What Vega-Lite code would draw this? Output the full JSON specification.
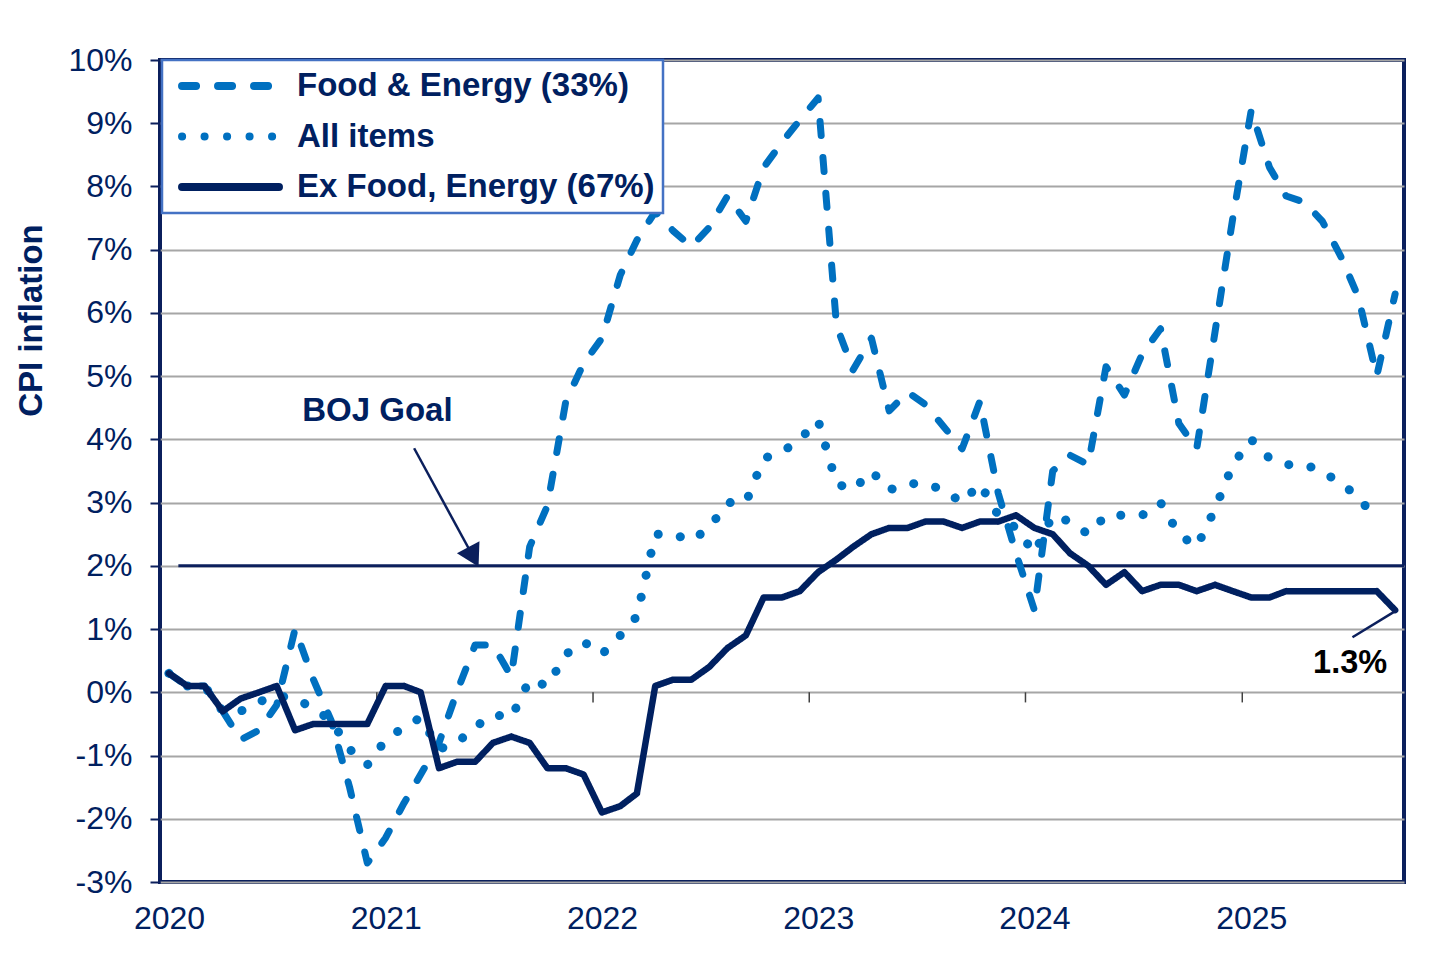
{
  "$schema": "https://vega.github.io/schema/vega-lite/v6.json",
  "width": 1244,
  "height": 822,
  "autosize": {"type": "none"},
  "padding": {"left": 160, "top": 60, "right": 52, "bottom": 84},
  "background": "white",
  "config": {
    "font": "Liberation Sans",
    "view": {"stroke": "#0b1f5c", "strokeWidth": 4},
    "legend": {
      "symbolType": "stroke",
      "symbolSize": 9400,
      "symbolStrokeWidth": 8,
      "labelFont": "Liberation Sans",
      "labelFontSize": 33,
      "labelFontWeight": "bold",
      "labelColor": "#002060",
      "labelLimit": 0,
      "padding": 7.5,
      "rowPadding": 13.5,
      "clipHeight": 37,
      "symbolOffset": 8.5,
      "labelOffset": 14,
      "fillColor": "white",
      "strokeColor": "#4472C4",
      "strokeWidth": 2.5
    }
  },
  "datasets": {
    "cpi": [
      {"date": "2020-01-16", "FE": 0.3, "All": 0.3, "Ex": 0.3},
      {"date": "2020-02-16", "FE": 0.1, "All": 0.1, "Ex": 0.1},
      {"date": "2020-03-16", "FE": 0.1, "All": 0.1, "Ex": 0.1},
      {"date": "2020-04-16", "FE": -0.3, "All": -0.3, "Ex": -0.3},
      {"date": "2020-05-16", "FE": -0.75, "All": -0.3, "Ex": -0.1},
      {"date": "2020-06-16", "FE": -0.6, "All": -0.15, "Ex": 0.0},
      {"date": "2020-07-16", "FE": -0.2, "All": -0.05, "Ex": 0.1},
      {"date": "2020-08-16", "FE": 1.0, "All": -0.1, "Ex": -0.6},
      {"date": "2020-09-16", "FE": 0.2, "All": -0.25, "Ex": -0.5},
      {"date": "2020-10-16", "FE": -0.45, "All": -0.45, "Ex": -0.5},
      {"date": "2020-11-16", "FE": -1.5, "All": -0.9, "Ex": -0.5},
      {"date": "2020-12-16", "FE": -2.7, "All": -1.15, "Ex": -0.5},
      {"date": "2021-01-16", "FE": -2.3, "All": -0.75, "Ex": 0.1},
      {"date": "2021-02-16", "FE": -1.75, "All": -0.55, "Ex": 0.1},
      {"date": "2021-03-16", "FE": -1.3, "All": -0.4, "Ex": 0.0},
      {"date": "2021-04-16", "FE": -0.8, "All": -0.9, "Ex": -1.2},
      {"date": "2021-05-16", "FE": 0.0, "All": -0.8, "Ex": -1.1},
      {"date": "2021-06-16", "FE": 0.75, "All": -0.55, "Ex": -1.1},
      {"date": "2021-07-16", "FE": 0.75, "All": -0.35, "Ex": -0.8},
      {"date": "2021-08-16", "FE": 0.25, "All": -0.4, "Ex": -0.7},
      {"date": "2021-09-16", "FE": 2.3, "All": 0.2, "Ex": -0.8},
      {"date": "2021-10-16", "FE": 2.95, "All": 0.1, "Ex": -1.2},
      {"date": "2021-11-16", "FE": 4.6, "All": 0.6, "Ex": -1.2},
      {"date": "2021-12-16", "FE": 5.2, "All": 0.8, "Ex": -1.3},
      {"date": "2022-01-16", "FE": 5.6, "All": 0.6, "Ex": -1.9},
      {"date": "2022-02-16", "FE": 6.6, "All": 0.9, "Ex": -1.8},
      {"date": "2022-03-16", "FE": 7.15, "All": 1.2, "Ex": -1.6},
      {"date": "2022-04-16", "FE": 7.6, "All": 2.5, "Ex": 0.1},
      {"date": "2022-05-16", "FE": 7.3, "All": 2.5, "Ex": 0.2},
      {"date": "2022-06-16", "FE": 7.05, "All": 2.4, "Ex": 0.2},
      {"date": "2022-07-16", "FE": 7.35, "All": 2.6, "Ex": 0.4},
      {"date": "2022-08-16", "FE": 7.85, "All": 3.0, "Ex": 0.7},
      {"date": "2022-09-16", "FE": 7.45, "All": 3.0, "Ex": 0.9},
      {"date": "2022-10-16", "FE": 8.3, "All": 3.7, "Ex": 1.5},
      {"date": "2022-11-16", "FE": 8.7, "All": 3.8, "Ex": 1.5},
      {"date": "2022-12-16", "FE": 9.05, "All": 4.0, "Ex": 1.6},
      {"date": "2023-01-16", "FE": 9.4, "All": 4.3, "Ex": 1.9},
      {"date": "2023-02-16", "FE": 5.8, "All": 3.3, "Ex": 2.1},
      {"date": "2023-03-16", "FE": 5.1, "All": 3.2, "Ex": 2.3},
      {"date": "2023-04-16", "FE": 5.6, "All": 3.5, "Ex": 2.5},
      {"date": "2023-05-16", "FE": 4.45, "All": 3.2, "Ex": 2.6},
      {"date": "2023-06-16", "FE": 4.75, "All": 3.3, "Ex": 2.6},
      {"date": "2023-07-16", "FE": 4.55, "All": 3.3, "Ex": 2.7},
      {"date": "2023-08-16", "FE": 4.2, "All": 3.2, "Ex": 2.7},
      {"date": "2023-09-16", "FE": 3.85, "All": 3.0, "Ex": 2.6},
      {"date": "2023-10-16", "FE": 4.6, "All": 3.3, "Ex": 2.7},
      {"date": "2023-11-16", "FE": 3.15, "All": 2.8, "Ex": 2.7},
      {"date": "2023-12-16", "FE": 2.2, "All": 2.6, "Ex": 2.8},
      {"date": "2024-01-16", "FE": 1.3, "All": 2.2, "Ex": 2.6},
      {"date": "2024-02-16", "FE": 3.5, "All": 2.8, "Ex": 2.5},
      {"date": "2024-03-16", "FE": 3.75, "All": 2.7, "Ex": 2.2},
      {"date": "2024-04-16", "FE": 3.6, "All": 2.5, "Ex": 2.0},
      {"date": "2024-05-16", "FE": 5.15, "All": 2.8, "Ex": 1.7},
      {"date": "2024-06-16", "FE": 4.7, "All": 2.8, "Ex": 1.9},
      {"date": "2024-07-16", "FE": 5.35, "All": 2.8, "Ex": 1.6},
      {"date": "2024-08-16", "FE": 5.75, "All": 3.0, "Ex": 1.7},
      {"date": "2024-09-16", "FE": 4.25, "All": 2.5, "Ex": 1.7},
      {"date": "2024-10-16", "FE": 3.85, "All": 2.3, "Ex": 1.6},
      {"date": "2024-11-16", "FE": 5.7, "All": 2.9, "Ex": 1.7},
      {"date": "2024-12-16", "FE": 7.5, "All": 3.6, "Ex": 1.6},
      {"date": "2025-01-16", "FE": 9.2, "All": 4.0, "Ex": 1.5},
      {"date": "2025-02-16", "FE": 8.3, "All": 3.7, "Ex": 1.5},
      {"date": "2025-03-16", "FE": 7.85, "All": 3.6, "Ex": 1.6},
      {"date": "2025-04-16", "FE": 7.75, "All": 3.6, "Ex": 1.6},
      {"date": "2025-05-16", "FE": 7.45, "All": 3.5, "Ex": 1.6},
      {"date": "2025-06-16", "FE": 6.9, "All": 3.3, "Ex": 1.6},
      {"date": "2025-07-16", "FE": 6.25, "All": 3.1, "Ex": 1.6},
      {"date": "2025-08-16", "FE": 5.0, "All": 2.7, "Ex": 1.6},
      {"date": "2025-09-16", "FE": 6.3, "All": null, "Ex": 1.3}
    ],
    "yearticks": [
      {"date": "2021-01-01"}, {"date": "2022-01-01"}, {"date": "2023-01-01"},
      {"date": "2024-01-01"}, {"date": "2025-01-01"}
    ],
    "goal": [{"date": "2020-02-01", "date2": "2025-10-01", "value": 2}],
    "arrow": [{"date": "2021-03-05", "value": 3.86, "date2": "2021-06-13", "value2": 2.14}],
    "arrowhead": [{"date": "2021-06-13", "value": 2.14}],
    "goaltext": [{"date": "2021-01-02", "value": 4.45, "text": "BOJ Goal"}],
    "leader": [{"date": "2025-07-06", "value": 0.87, "date2": "2025-09-19", "value2": 1.3}],
    "callout": [{"date": "2025-07-02", "value": 0.46, "text": "1.3%"}]
  },
  "layer": [
    {
      "data": {"name": "yearticks"},
      "mark": {"type": "rule", "color": "#404040", "strokeWidth": 1.5},
      "encoding": {
        "x": {"field": "date", "type": "temporal"},
        "y": {"datum": 0},
        "y2": {"datum": -0.16}
      }
    },
    {
      "data": {"name": "goal"},
      "mark": {"type": "rule", "color": "#0b1f5c", "strokeWidth": 3},
      "encoding": {
        "x": {"field": "date", "type": "temporal"},
        "x2": {"field": "date2"},
        "y": {"field": "value", "type": "quantitative"}
      }
    },
    {
      "data": {"name": "cpi"},
      "transform": [{"fold": ["FE", "All", "Ex"], "as": ["key", "value"]}],
      "encoding": {
        "x": {
          "field": "date",
          "type": "temporal",
          "scale": {"domain": [{"year": 2020, "month": 1, "date": 1}, {"year": 2025, "month": 10, "date": 1}]},
          "axis": {
            "title": null,
            "values": [
              {"year": 2020, "month": 1, "date": 1}, {"year": 2021, "month": 1, "date": 1},
              {"year": 2022, "month": 1, "date": 1}, {"year": 2023, "month": 1, "date": 1},
              {"year": 2024, "month": 1, "date": 1}, {"year": 2025, "month": 1, "date": 1}
            ],
            "format": "%Y",
            "ticks": false,
            "domain": false,
            "grid": false,
            "labelOffset": 9,
            "labelPadding": 21,
            "labelFontSize": 32,
            "labelColor": "#002060",
            "labelFont": "Liberation Sans",
            "labelFlush": false,
            "labelOverlap": false
          }
        },
        "y": {
          "field": "value",
          "type": "quantitative",
          "scale": {"domain": [-3, 10], "nice": false, "zero": false},
          "axis": {
            "values": [-3, -2, -1, 0, 1, 2, 3, 4, 5, 6, 7, 8, 9, 10],
            "labelExpr": "datum.value + '%'",
            "title": "CPI inflation",
            "titleFont": "Liberation Sans",
            "titleFontSize": 33,
            "titleFontWeight": "bold",
            "titleColor": "#002060",
            "titleAngle": -90,
            "titleX": -119,
            "titleY": 260,
            "titleAlign": "center",
            "titleBaseline": "alphabetic",
            "grid": true,
            "gridColor": "#a6a6a6",
            "gridWidth": 2,
            "domain": false,
            "tickSize": 10,
            "tickColor": "#0b1f5c",
            "tickWidth": 2,
            "labelPadding": 18,
            "labelFontSize": 32,
            "labelColor": "#002060",
            "labelFont": "Liberation Sans"
          }
        },
        "color": {
          "field": "key",
          "type": "nominal",
          "scale": {"domain": ["FE", "All", "Ex"], "range": ["#0070C0", "#0070C0", "#002060"]},
          "legend": {
            "title": null,
            "orient": "none",
            "legendX": 2,
            "legendY": 0,
            "labelExpr": "datum.label == 'FE' ? 'Food & Energy (33%)' : datum.label == 'All' ? 'All items' : 'Ex Food, Energy (67%)'",
            "encoding": {"symbols": {"strokeCap": {"value": "round"}}}
          }
        },
        "strokeDash": {
          "field": "key",
          "type": "nominal",
          "scale": {"domain": ["FE", "All", "Ex"], "range": [[14, 22], [0.1, 22.4], [1, 0]]},
          "legend": {
            "title": null,
            "orient": "none",
            "legendX": 2,
            "legendY": 0,
            "labelExpr": "datum.label == 'FE' ? 'Food & Energy (33%)' : datum.label == 'All' ? 'All items' : 'Ex Food, Energy (67%)'",
            "encoding": {"symbols": {"strokeCap": {"value": "round"}}}
          }
        }
      },
      "layer": [
        {
          "transform": [{"filter": "datum.key == 'FE'"}],
          "mark": {"type": "line", "strokeWidth": 7, "strokeCap": "round", "strokeJoin": "round"}
        },
        {
          "transform": [{"filter": "datum.key == 'All'"}],
          "mark": {"type": "line", "strokeWidth": 9, "strokeCap": "round", "strokeJoin": "round"}
        },
        {
          "transform": [{"filter": "datum.key == 'Ex'"}],
          "mark": {"type": "line", "strokeWidth": 6.5, "strokeCap": "round", "strokeJoin": "round"}
        }
      ]
    },
    {
      "data": {"name": "arrow"},
      "mark": {"type": "rule", "color": "#0b1f5c", "strokeWidth": 2.5},
      "encoding": {
        "x": {"field": "date", "type": "temporal"},
        "x2": {"field": "date2"},
        "y": {"field": "value", "type": "quantitative"},
        "y2": {"field": "value2"}
      }
    },
    {
      "data": {"name": "arrowhead"},
      "mark": {"type": "point", "shape": "triangle-up", "filled": true, "size": 650, "angle": 152, "color": "#0b1f5c", "opacity": 1},
      "encoding": {
        "x": {"field": "date", "type": "temporal"},
        "y": {"field": "value", "type": "quantitative"}
      }
    },
    {
      "data": {"name": "goaltext"},
      "mark": {"type": "text", "font": "Liberation Sans", "fontSize": 33, "fontWeight": "bold", "color": "#002060", "align": "center", "baseline": "middle"},
      "encoding": {
        "x": {"field": "date", "type": "temporal"},
        "y": {"field": "value", "type": "quantitative"},
        "text": {"field": "text"}
      }
    },
    {
      "data": {"name": "leader"},
      "mark": {"type": "rule", "color": "#0b1f5c", "strokeWidth": 2.5},
      "encoding": {
        "x": {"field": "date", "type": "temporal"},
        "x2": {"field": "date2"},
        "y": {"field": "value", "type": "quantitative"},
        "y2": {"field": "value2"}
      }
    },
    {
      "data": {"name": "callout"},
      "mark": {"type": "text", "font": "Liberation Sans", "fontSize": 32.5, "fontWeight": "bold", "color": "#000000", "align": "center", "baseline": "middle"},
      "encoding": {
        "x": {"field": "date", "type": "temporal"},
        "y": {"field": "value", "type": "quantitative"},
        "text": {"field": "text"}
      }
    }
  ]
}
